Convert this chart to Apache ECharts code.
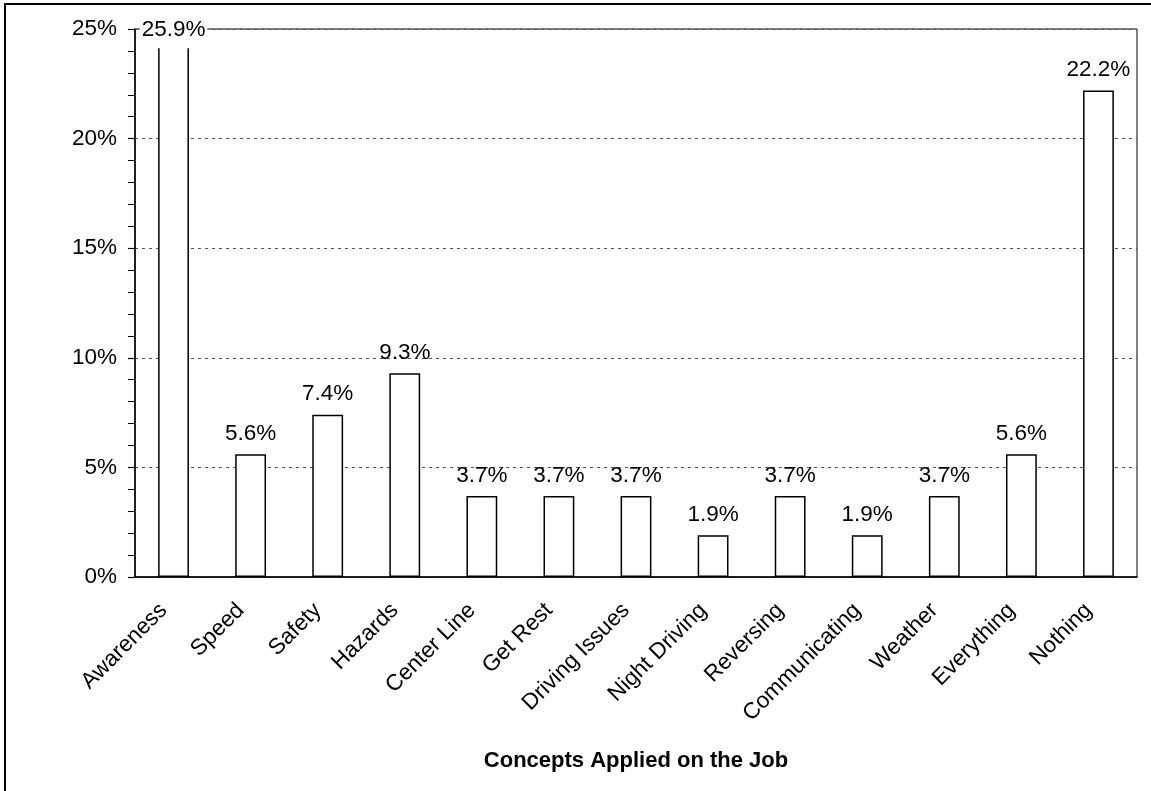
<!DOCTYPE html>
<html>
<head>
<meta charset="utf-8">
<script src="https://cdn.jsdelivr.net/npm/echarts@6/dist/echarts.min.js"></script>
<style>
html,body{margin:0;padding:0;background:#fff;}
#chart{width:1151px;height:791px;}
</style>
</head>
<body>
<div id="chart"></div>
<script>
const categories = ['Awareness','Speed','Safety','Hazards','Center Line','Get Rest','Driving Issues','Night Driving','Reversing','Communicating','Weather','Everything','Nothing'];
const values = [25.9, 5.6, 7.4, 9.3, 3.7, 3.7, 3.7, 1.9, 3.7, 1.9, 3.7, 5.6, 22.2];
const yTicks = [0, 5, 10, 15, 20, 25];
const axisTitle = 'Concepts Applied on the Job';

const yMax = yTicks[yTicks.length - 1];
const font = 'Liberation Sans, Arial, sans-serif';

const seriesData = values.map(v => {
  if (v > yMax) {
    return {
      value: v,
      label: {
        position: 'insideTop',
        distance: 0,
        offset: [0, -10],
        backgroundColor: '#fff',
        padding: [0, 2, 7, 2]
      }
    };
  }
  return v;
});

const chart = echarts.init(document.getElementById('chart'), null, {renderer: 'canvas'});
chart.setOption({
  backgroundColor: '#fff',
  animation: false,
  graphic: [{
    type: 'rect',
    shape: {x: 5, y: 4, width: 1300, height: 1000},
    style: {fill: 'none', stroke: '#000', lineWidth: 2},
    z: 100
  }],
  grid: {
    left: 135, right: 14, top: 29, bottom: 214,
    show: true, borderColor: '#000', borderWidth: 1, backgroundColor: 'transparent'
  },
  xAxis: {
    type: 'category',
    data: categories,
    name: axisTitle,
    nameLocation: 'middle',
    nameGap: 173,
    nameTextStyle: {fontFamily: font, fontSize: 22, fontWeight: 'bold', color: '#000'},
    axisLine: {lineStyle: {color: '#000', width: 1.5}},
    axisTick: {show: false},
    axisLabel: {rotate: 45, fontFamily: font, fontSize: 22.5, color: '#000', margin: 20, padding: [0, 14, 0, 0], interval: 0}
  },
  yAxis: {
    type: 'value',
    min: 0, max: yMax, interval: 5,
    axisLine: {show: true, lineStyle: {color: '#000', width: 1.5}},
    axisTick: {show: true, length: 7, lineStyle: {color: '#000', width: 1.2}},
    minorTick: {show: true, splitNumber: 5, length: 7, lineStyle: {color: '#000', width: 1}},
    splitLine: {show: true, lineStyle: {color: '#555', type: [3, 4], width: 1}},
    axisLabel: {formatter: '{value}%', fontFamily: font, fontSize: 22.5, color: '#000', margin: 18}
  },
  series: [{
    type: 'bar',
    data: seriesData,
    barWidth: '40%',
    clip: true,
    itemStyle: {color: '#fff', borderColor: '#000', borderWidth: 1.5},
    label: {
      show: true,
      position: 'top',
      distance: 9,
      formatter: p => p.value.toFixed(1) + '%',
      fontFamily: font, fontSize: 22.5, color: '#000'
    }
  }]
});
</script>
</body>
</html>
